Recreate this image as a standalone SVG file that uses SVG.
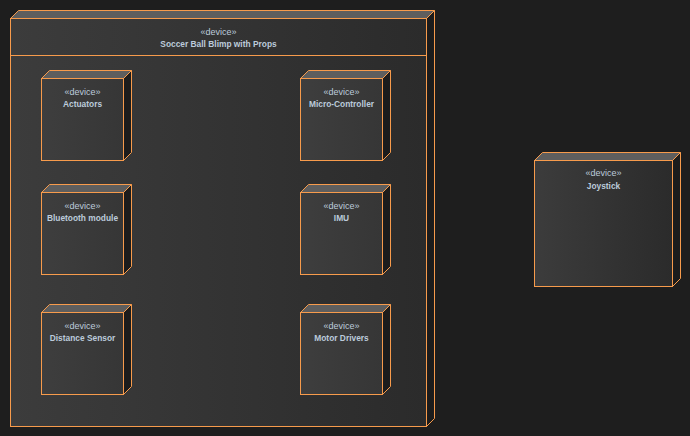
<svg xmlns="http://www.w3.org/2000/svg" width="690" height="436" viewBox="0 0 690 436">
  <defs>
    <linearGradient id="faceFill" x1="0" y1="0" x2="1" y2="0">
      <stop offset="0" stop-color="#3c3c3c"/>
      <stop offset="1" stop-color="#2b2b2b"/>
    </linearGradient>
    <linearGradient id="innerFill" x1="0" y1="0" x2="1" y2="0">
      <stop offset="0" stop-color="#3e3e3e"/>
      <stop offset="1" stop-color="#363636"/>
    </linearGradient>
  </defs>
  <style>
    .front { fill: url(#faceFill); stroke: #f79b4c; stroke-width: 1; }
    .inner .front { fill: url(#innerFill); }
    .top { fill: #5e5e5e; stroke: #f79b4c; stroke-width: 1; }
    .side { fill: #1c1c1c; stroke: #f79b4c; stroke-width: 1; }
    .sep { stroke: #f79b4c; stroke-width: 1; }
    text { font-family: "Liberation Sans", Arial, sans-serif; fill: #bccbdb; text-anchor: middle; }
    .st { font-size: 9px; }
    .nm { font-size: 8.4px; font-weight: bold; }
  </style>
  <rect width="690" height="436" fill="#1e1e1e"/>

  <!-- container node -->
  <g id="soccer-ball-blimp">
    <polygon class="top" points="10.5,18.5 18.5,10.5 434.5,10.5 426.5,18.5"/>
    <polygon class="side" points="426.5,18.5 434.5,10.5 434.5,418.5 426.5,426.5"/>
    <rect class="front" x="10.5" y="18.5" width="416" height="408"/>
    <line class="sep" x1="10.5" y1="55.5" x2="426.5" y2="55.5"/>
    <text class="st" x="218.5" y="34.5">«device»</text>
    <text class="nm" x="218.5" y="47">Soccer Ball Blimp with Props</text>
  </g>

  <g id="actuators" class="inner">
    <polygon class="top" points="41.5,78.5 49.5,70.5 131.5,70.5 123.5,78.5"/>
    <polygon class="side" points="123.5,78.5 131.5,70.5 131.5,152.5 123.5,160.5"/>
    <rect class="front" x="41.5" y="78.5" width="82" height="82"/>
    <text class="st" x="82.5" y="94.5">«device»</text>
    <text class="nm" x="82.5" y="107">Actuators</text>
  </g>

  <g id="micro-controller" class="inner">
    <polygon class="top" points="300.5,78.5 308.5,70.5 390.5,70.5 382.5,78.5"/>
    <polygon class="side" points="382.5,78.5 390.5,70.5 390.5,152.5 382.5,160.5"/>
    <rect class="front" x="300.5" y="78.5" width="82" height="82"/>
    <text class="st" x="341.5" y="94.5">«device»</text>
    <text class="nm" x="341.5" y="107">Micro-Controller</text>
  </g>

  <g id="bluetooth-module" class="inner">
    <polygon class="top" points="41.5,192.5 49.5,184.5 131.5,184.5 123.5,192.5"/>
    <polygon class="side" points="123.5,192.5 131.5,184.5 131.5,266.5 123.5,274.5"/>
    <rect class="front" x="41.5" y="192.5" width="82" height="82"/>
    <text class="st" x="82.5" y="208.5">«device»</text>
    <text class="nm" x="82.5" y="221">Bluetooth module</text>
  </g>

  <g id="imu" class="inner">
    <polygon class="top" points="300.5,192.5 308.5,184.5 390.5,184.5 382.5,192.5"/>
    <polygon class="side" points="382.5,192.5 390.5,184.5 390.5,266.5 382.5,274.5"/>
    <rect class="front" x="300.5" y="192.5" width="82" height="82"/>
    <text class="st" x="341.5" y="208.5">«device»</text>
    <text class="nm" x="341.5" y="221">IMU</text>
  </g>

  <g id="distance-sensor" class="inner">
    <polygon class="top" points="41.5,312.5 49.5,304.5 131.5,304.5 123.5,312.5"/>
    <polygon class="side" points="123.5,312.5 131.5,304.5 131.5,386.5 123.5,394.5"/>
    <rect class="front" x="41.5" y="312.5" width="82" height="82"/>
    <text class="st" x="82.5" y="328.5">«device»</text>
    <text class="nm" x="82.5" y="341">Distance Sensor</text>
  </g>

  <g id="motor-drivers" class="inner">
    <polygon class="top" points="300.5,312.5 308.5,304.5 390.5,304.5 382.5,312.5"/>
    <polygon class="side" points="382.5,312.5 390.5,304.5 390.5,386.5 382.5,394.5"/>
    <rect class="front" x="300.5" y="312.5" width="82" height="82"/>
    <text class="st" x="341.5" y="328.5">«device»</text>
    <text class="nm" x="341.5" y="341">Motor Drivers</text>
  </g>

  <g id="joystick">
    <polygon class="top" points="534.5,160.5 542.5,152.5 680.5,152.5 672.5,160.5"/>
    <polygon class="side" points="672.5,160.5 680.5,152.5 680.5,278.5 672.5,286.5"/>
    <rect class="front" x="534.5" y="160.5" width="138" height="126"/>
    <text class="st" x="603.5" y="176">«device»</text>
    <text class="nm" x="603.5" y="189">Joystick</text>
  </g>

  <g id="connectors"/>
</svg>
